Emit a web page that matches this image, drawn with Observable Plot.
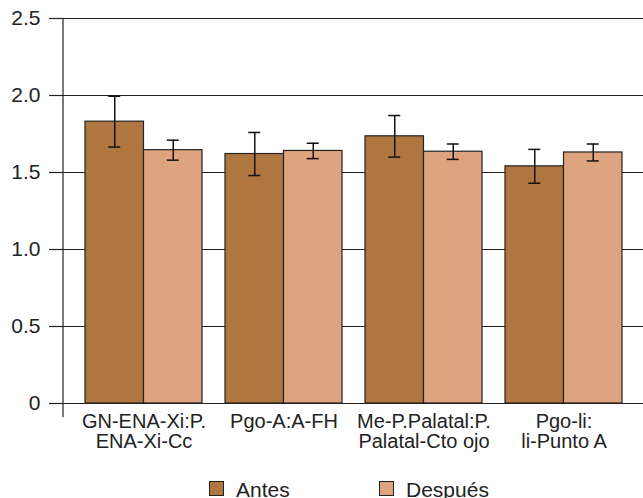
<!DOCTYPE html>
<html><head><meta charset="utf-8">
<script src="https://cdn.jsdelivr.net/npm/d3@7"></script>
<script src="https://cdn.jsdelivr.net/npm/@observablehq/plot@0.6"></script>
<style>
body{margin:0;background:#fff;font-family:"Liberation Sans",Arial,Helvetica,sans-serif;}
#chart{position:relative;width:643px;height:498px;overflow:hidden;background:#fff;}
.legend{position:absolute;top:479px;left:0;width:643px;height:19px;font-size:21px;line-height:21px;color:#222;}
.item{position:absolute;top:0;display:flex;align-items:flex-start;}
.sw{width:15px;height:15px;box-sizing:border-box;border:1px solid #222;margin-top:2px;margin-right:12px;}
</style></head><body><div id="chart"></div>
<script>
const groups = ["GN-ENA-Xi:P.\nENA-Xi-Cc", "Pgo-A:A-FH", "Me-P.Palatal:P.\nPalatal-Cto ojo", "Pgo-li:\nli-Punto A"];
const series = ["Antes", "Después"];
const antes = [1.83, 1.62, 1.735, 1.54];
const antesErr = [0.165, 0.14, 0.135, 0.11];
const despues = [1.645, 1.64, 1.635, 1.63];
const despuesErr = [0.065, 0.05, 0.05, 0.055];
const yTicks = [0, 0.5, 1, 1.5, 2, 2.5];
const colors = ["#b07640", "#dea47f"];

const rowsA = groups.map((g, i) => ({group: g, serie: series[0], value: antes[i], err: antesErr[i]}));
const rowsD = groups.map((g, i) => ({group: g, serie: series[1], value: despues[i], err: despuesErr[i]}));

const W = 643, H = 470, mL = 63, mR = 0, mT = 18, mB = 67;
const pInner = 0.166, pOuter = 0.15;
const step = (W - mL - mR) / (groups.length - pInner + 2 * pOuter);
const bw = step * (1 - pInner);
const half = bw / 2;
const capW = 12;
const capInset = (bw - capW) / 2;

function errMarks(rows, dx) {
  return [
    Plot.ruleX(rows, {x: "group", y1: d => d.value - d.err, y2: d => d.value + d.err, dx, stroke: "#111", strokeWidth: 1.5}),
    Plot.tickY(rows, {x: "group", y: d => d.value + d.err, dx, insetLeft: capInset, insetRight: capInset, stroke: "#111", strokeWidth: 1.5}),
    Plot.tickY(rows, {x: "group", y: d => d.value - d.err, dx, insetLeft: capInset, insetRight: capInset, stroke: "#111", strokeWidth: 1.5})
  ];
}

const plot = Plot.plot({
  width: W, height: H,
  marginLeft: mL, marginRight: mR, marginTop: mT, marginBottom: mB,
  style: {fontSize: "21px", fontFamily: "Liberation Sans, Arial, Helvetica, sans-serif", color: "#222", background: "#fff", overflow: "visible"},
  x: {type: "band", domain: groups, paddingInner: pInner, paddingOuter: pOuter},
  y: {domain: [0, 2.5]},
  marks: [
    Plot.ruleY(yTicks, {stroke: "#222", strokeWidth: 1.2}),
    Plot.barY(rowsA, {x: "group", y: "value", fill: colors[0], stroke: "#222", strokeWidth: 1.2, insetRight: half}),
    Plot.barY(rowsD, {x: "group", y: "value", fill: colors[1], stroke: "#222", strokeWidth: 1.2, insetLeft: half}),
    ...errMarks(rowsA, -half / 2),
    ...errMarks(rowsD, half / 2),
    Plot.axisY({ticks: yTicks, tickSize: 14, tickPadding: 9, tickFormat: d => d === 0 ? "0" : d.toFixed(1), label: null, strokeWidth: 1.2}),
    Plot.axisX({tickSize: 0, tickPadding: 10, fontSize: 20, lineHeight: 1, label: null})
  ]
});

const ys = plot.scale("y");
const xs = plot.scale("x");
d3.select(plot).append("line")
  .attr("x1", xs.range[0]).attr("x2", xs.range[0])
  .attr("y1", ys.apply(2.5)).attr("y2", ys.apply(0) + 14)
  .attr("stroke", "#222").attr("stroke-width", 1.2);

const chart = document.getElementById("chart");
chart.appendChild(plot);

const legend = document.createElement("div");
legend.className = "legend";
const legendLeft = [209, 379];
series.forEach((s, i) => {
  const it = document.createElement("div");
  it.className = "item";
  it.style.left = legendLeft[i] + "px";
  const sw = document.createElement("div");
  sw.className = "sw";
  sw.style.background = colors[i];
  const t = document.createElement("span");
  t.textContent = s;
  it.appendChild(sw); it.appendChild(t);
  legend.appendChild(it);
});
chart.appendChild(legend);
</script></body></html>
